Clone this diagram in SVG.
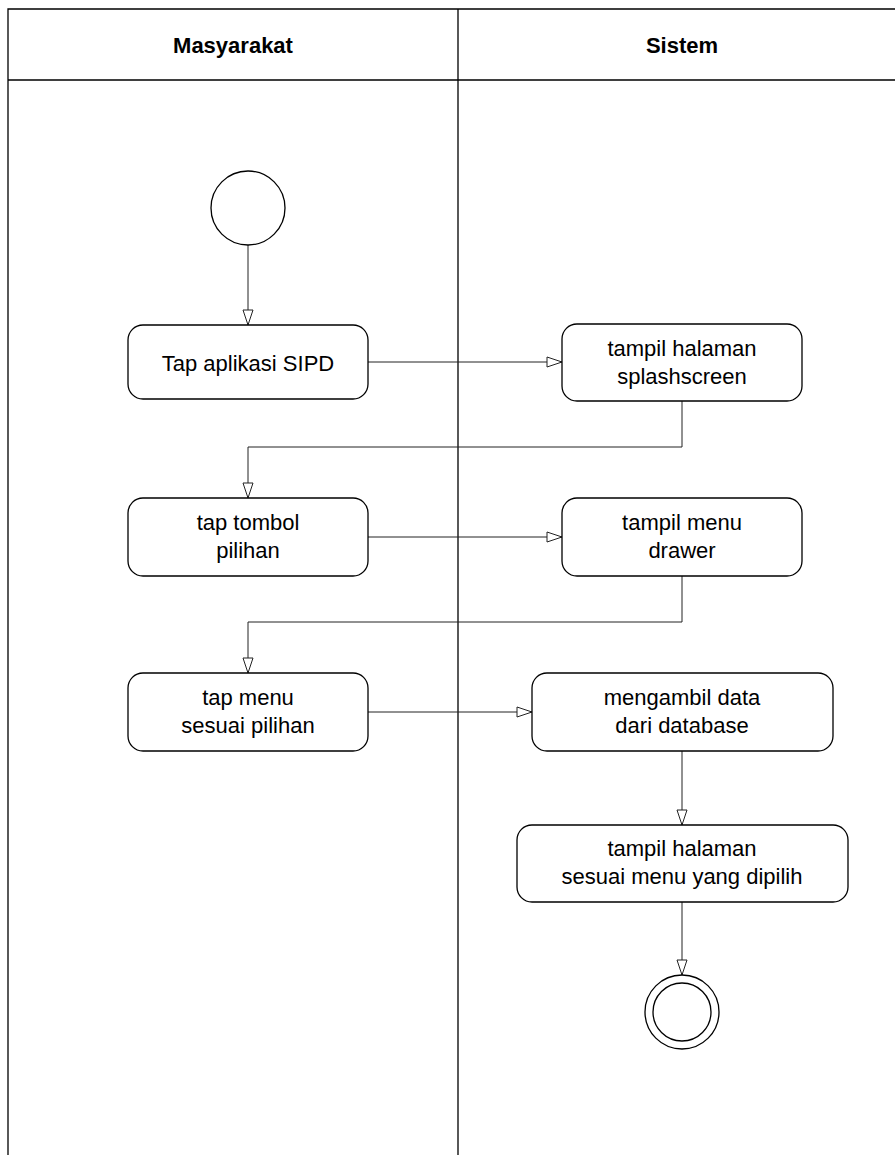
<svg xmlns="http://www.w3.org/2000/svg" width="895" height="1155" viewBox="0 0 895 1155">
<style>
.lane{fill:none;stroke:#000;stroke-width:1.3}
.node{fill:#fff;stroke:#000;stroke-width:1.3}
.conn{fill:none;stroke:#222;stroke-width:1}
.t{font-family:"Liberation Sans",Arial,sans-serif;font-size:22px;fill:#000;text-anchor:middle}
.h{font-family:"Liberation Sans",Arial,sans-serif;font-size:22px;font-weight:bold;fill:#000;text-anchor:middle}
</style>
<defs>
<marker id="arr" viewBox="0 0 16 12" refX="16" refY="6" markerWidth="16" markerHeight="12" markerUnits="userSpaceOnUse" orient="auto">
<path d="M1,1 L16,6 L1,11 Z" fill="#fff" stroke="#222" stroke-width="1"/>
</marker>
</defs>
<rect width="895" height="1155" fill="#fff"/>
<g id="lanes">
<path class="lane" d="M8,1155 V9 H895 M8,80 H895 M458,9 V1155"/>
<text class="h" x="233" y="53">Masyarakat</text>
<text class="h" x="682" y="53">Sistem</text>
</g>
<g id="connectors">
<path class="conn" d="M248,245 V325" marker-end="url(#arr)"/>
<path class="conn" d="M368,362 H562" marker-end="url(#arr)"/>
<path class="conn" d="M682,401 V447 H248 V498" marker-end="url(#arr)"/>
<path class="conn" d="M368,537 H562" marker-end="url(#arr)"/>
<path class="conn" d="M682,576 V622 H248 V673" marker-end="url(#arr)"/>
<path class="conn" d="M368,712 H532" marker-end="url(#arr)"/>
<path class="conn" d="M682,751 V825" marker-end="url(#arr)"/>
<path class="conn" d="M682,902 V975" marker-end="url(#arr)"/>
</g>
<g id="start"><circle class="node" cx="248" cy="208" r="37"/></g>
<g id="n1"><rect class="node" x="128" y="325" width="240" height="74" rx="15"/><text class="t" x="248" y="371">Tap aplikasi SIPD</text></g>
<g id="n2"><rect class="node" x="562" y="324" width="240" height="77" rx="15"/><text class="t" x="682" y="356">tampil halaman</text><text class="t" x="682" y="384">splashscreen</text></g>
<g id="n3"><rect class="node" x="128" y="498" width="240" height="78" rx="15"/><text class="t" x="248" y="530">tap tombol</text><text class="t" x="248" y="558">pilihan</text></g>
<g id="n4"><rect class="node" x="562" y="498" width="240" height="78" rx="15"/><text class="t" x="682" y="530">tampil menu</text><text class="t" x="682" y="558">drawer</text></g>
<g id="n5"><rect class="node" x="128" y="673" width="240" height="78" rx="15"/><text class="t" x="248" y="705">tap menu</text><text class="t" x="248" y="733">sesuai pilihan</text></g>
<g id="n6"><rect class="node" x="532" y="673" width="301" height="78" rx="15"/><text class="t" x="682" y="705">mengambil data</text><text class="t" x="682" y="733">dari database</text></g>
<g id="n7"><rect class="node" x="517" y="825" width="331" height="77" rx="15"/><text class="t" x="682" y="856">tampil halaman</text><text class="t" x="682" y="884">sesuai menu yang dipilih</text></g>
<g id="end"><circle class="node" cx="682" cy="1012" r="37"/><circle class="node" cx="682" cy="1012" r="29"/></g>
</svg>
